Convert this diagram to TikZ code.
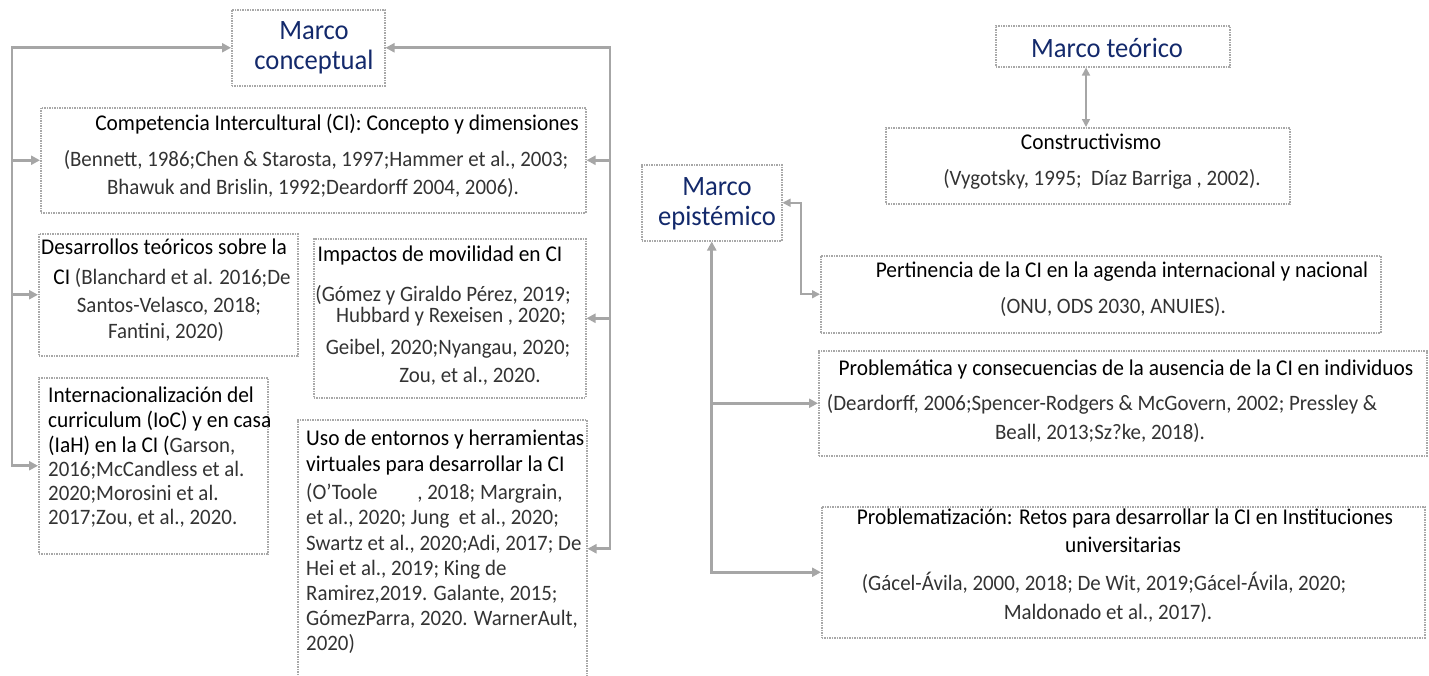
\documentclass[tikz,border=0pt]{standalone}
\usepackage{fontspec}
\setmainfont{Carlito}[FakeStretch=0.95]
\usetikzlibrary{arrows.meta,calc}
\definecolor{navy}{HTML}{13296B}
\definecolor{linegray}{HTML}{A6A6A6}
\definecolor{boxgray}{HTML}{A8A8A8}
\definecolor{refcol}{HTML}{333333}
\newcommand\tfA{\fontsize{22.5}{24}\selectfont}
\newcommand\rfA{\fontsize{22}{24}\selectfont\color{refcol}}
\newcommand\mfA{\fontsize{28}{30}\selectfont\color{navy}}
\tikzset{
  box/.style={draw=boxgray, densely dotted, line width=1.5pt, inner sep=0pt, anchor=north west},
  tip/.tip={Triangle[length=9pt,width=9pt]},
  conn/.style={draw=linegray, line width=2.6pt, -tip},
  dbl/.style={draw=linegray, line width=2.6pt, tip-tip},
  dblthin/.style={draw=linegray, line width=1.6pt, {Triangle[length=8pt,width=8pt]}-{Triangle[length=8pt,width=8pt]}},
  ttl/.style={inner sep=0pt, font=\tfA, text=black},
  refs/.style={inner sep=0pt, font=\rfA},
  mtx/.style={inner sep=0pt, font=\mfA, align=center}
}
\begin{document}
\begin{tikzpicture}[x=1pt,y=-1pt]
\useasboundingbox (0,0) rectangle (1429,675);
% ---------- boxes, left ----------
\node[box, minimum width=153pt, minimum height=76pt] (mc) at (231,9) {};
\node[box, minimum width=545pt, minimum height=105pt] (ci) at (40,107) {};
\node[box, minimum width=259pt, minimum height=122pt] (dt) at (38,233) {};
\node[box, minimum width=272pt, minimum height=159pt] (imp) at (313,238) {};
\node[box, minimum width=229pt, minimum height=176pt] (intl) at (38,377) {};
\node[box, minimum width=289pt, minimum height=258pt] (uso) at (297,419) {};
% ---------- boxes, right ----------
\node[box, minimum width=234pt, minimum height=41pt] (mt) at (995,25) {};
\node[box, minimum width=404pt, minimum height=76pt] (cons) at (885,127) {};
\node[box, minimum width=140pt, minimum height=76pt] (me) at (641,164) {};
\node[box, minimum width=560pt, minimum height=77pt] (pert) at (820,255) {};
\node[box, minimum width=608pt, minimum height=105pt] (prob) at (818,350) {};
\node[box, minimum width=603pt, minimum height=131pt] (prz) at (821,506) {};
% ---------- texts, left ----------
\node[mtx] (mcT) at (314,48) {Marco\\conceptual};
\node[ttl, anchor=mid] (ciT) at (337,128) {Competencia Intercultural (CI): Concepto y dimensiones};
\node[refs, anchor=mid] (ciR1) at (316,164) {(Bennett, 1986;Chen \& Starosta, 1997;Hammer et al., 2003;};
\node[refs, anchor=mid] (ciR2) at (313,192) {Bhawuk and Brislin, 1992;Deardorff 2004, 2006).};
\node[ttl, anchor=mid] (dtT) at (164,252) {Desarrollos teóricos sobre la};
\node[ttl, anchor=mid] (dtR1) at (172,282) {CI {\rfA(Blanchard et al. 2016;De}};
\node[refs, anchor=mid] (dtR2) at (169,310) {Santos-Velasco, 2018;};
\node[refs, anchor=mid] (dtR3) at (166,336) {Fantini, 2020)};
\node[ttl, anchor=mid] (impT) at (440,259) {Impactos de movilidad en CI};
\node[refs, anchor=mid] (impR1) at (443,299) {(Gómez y Giraldo Pérez, 2019;};
\node[refs, anchor=mid] (impR2) at (451,320) {Hubbard y Rexeisen , 2020;};
\node[refs, anchor=mid] (impR3) at (448,352) {Geibel, 2020;Nyangau, 2020;};
\node[refs, anchor=mid] (impR4) at (470,380) {Zou, et al., 2020.};
\node[ttl, anchor=mid west] (inT1) at (48,400) {Internacionalización del};
\node[ttl, anchor=mid west] (inT2) at (48,425) {curriculum (IoC) y en casa};
\node[ttl, anchor=mid west] (inT3) at (48,450) {(IaH) en la CI ({\rfA Garson,}};
\node[refs, anchor=mid west] (inR1) at (48,474) {2016;McCandless et al.};
\node[refs, anchor=mid west] (inR2) at (48,498) {2020;Morosini et al.};
\node[refs, anchor=mid west] (inR3) at (48,522) {2017;Zou, et al., 2020.};
\node[ttl, anchor=mid west] (usT1) at (306,443) {Uso de entornos y herramientas};
\node[ttl, anchor=mid west] (usT2) at (306,469) {virtuales para desarrollar la CI};
\node[refs, anchor=mid west] (usR1) at (306,497) {(O’Toole\hspace{40pt}, 2018; Margrain,};
\node[refs, anchor=mid west] (usR2) at (306,522) {et al., 2020; Jung\ \ et al., 2020;};
\node[refs, anchor=mid west] (usR3) at (306,548) {Swartz et al., 2020;Adi, 2017; De};
\node[refs, anchor=mid west] (usR4) at (306,573) {Hei et al., 2019; King de};
\node[refs, anchor=mid west] (usR5) at (306,598) {Ramirez,2019. Galante, 2015;};
\node[refs, anchor=mid west] (usR6) at (306,623) {GómezParra, 2020. WarnerAult,};
\node[refs, anchor=mid west] (usR7) at (306,648) {2020)};
% ---------- texts, right ----------
\node[mtx] (mtT) at (1107,48) {Marco teórico};
\node[mtx] (meT) at (717,204) {Marco\\epistémico};
\node[ttl, anchor=mid] (coT) at (1091,147) {Constructivismo};
\node[refs, anchor=mid] (coR) at (1102,183) {(Vygotsky, 1995;\ \ Díaz Barriga , 2002).};
\node[ttl, anchor=mid] (peT) at (1122,275) {Pertinencia de la CI en la agenda internacional y nacional};
\node[refs, anchor=mid] (peR) at (1113,311) {(ONU, ODS 2030, ANUIES).};
\node[ttl, anchor=mid] (prT) at (1126,373) {Problemática y consecuencias de la ausencia de la CI en individuos};
\node[refs, anchor=mid] (prR1) at (1102,408) {(Deardorff, 2006;Spencer-Rodgers \& McGovern, 2002; Pressley \&};
\node[refs, anchor=mid] (prR2) at (1100,437) {Beall, 2013;Sz?ke, 2018).};
\node[ttl, anchor=mid] (pzT1) at (1125,522) {Problematización: Retos para desarrollar la CI en Instituciones};
\node[ttl, anchor=mid] (pzT2) at (1123,550) {universitarias};
\node[refs, anchor=mid] (pzR1) at (1104,588) {(Gácel-Ávila, 2000, 2018; De Wit, 2019;Gácel-Ávila, 2020;};
\node[refs, anchor=mid] (pzR2) at (1108,617) {Maldonado et al., 2017).};
% ---------- connectors, left ----------
\coordinate (L) at (12,0);
\coordinate (R) at (610,0);
\draw[dbl] (mc.west) -- (mc.west -| L) -- (intl.west -| L) -- (intl.west);
\draw[conn] (ci.west -| L) -- (ci.west);
\draw[conn] (dt.west -| L) -- (dt.west);
\draw[dbl] (mc.east) -- (mc.east -| R) -- (uso.east -| R) -- (uso.east);
\draw[conn] (ci.east -| R) -- (ci.east);
\draw[conn] (imp.east -| R) -- (imp.east);
% ---------- connectors, right ----------
\coordinate (TX) at (1086,0);
\coordinate (EX) at (801,0);
\draw[dblthin] (mt.south -| TX) -- (cons.north -| TX);
\draw[dblthin] (me.east) -- (me.east -| EX) |- (pert.west);
\draw[dbl] (me.south) |- (prz.west);
\draw[conn] (prob.west -| me.south) -- (prob.west);
\end{tikzpicture}
\end{document}
